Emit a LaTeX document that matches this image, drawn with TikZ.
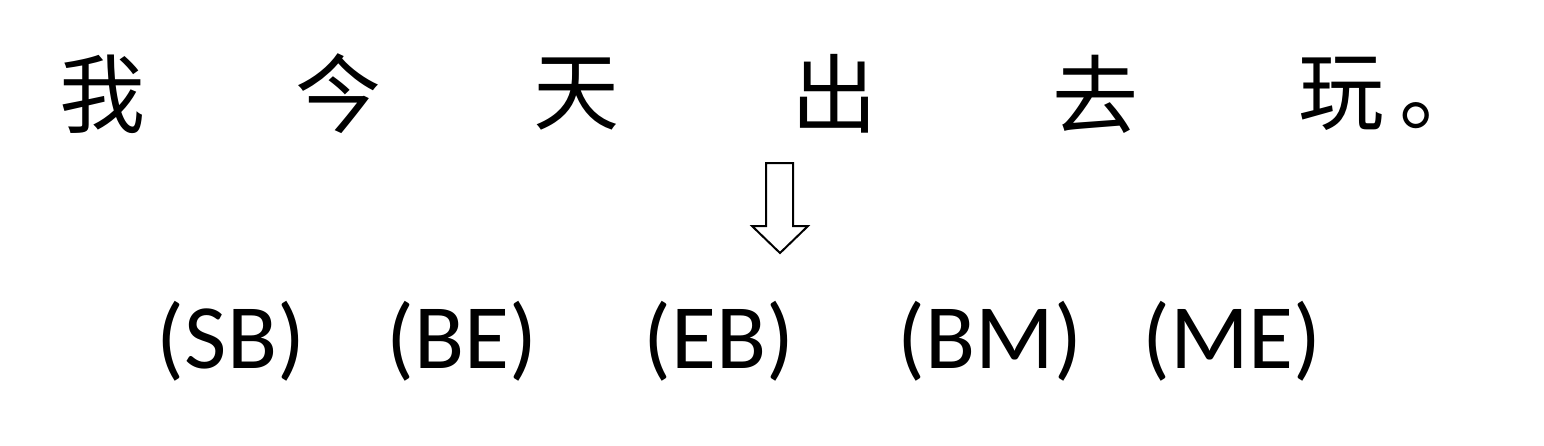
\documentclass[tikz,border=0pt]{standalone}
\usepackage{fontspec}
\setmainfont{Carlito}
\newfontfamily\cjk{Noto Sans CJK SC}
\begin{document}
\begin{tikzpicture}[x=0.5pt,y=-0.5pt]
      \useasboundingbox (0,0) rectangle (1544,445);
      \tikzset{
        zi/.style={inner sep=0pt,font=\cjk\fontsize{43}{43}\selectfont},
        tag/.style={inner sep=0pt,font=\fontsize{46}{46}\selectfont}}
      \draw
        (102,94) node[zi] (c0){我}
        (338,94) node[zi] (c1){今}
        (576,94) node[zi] (c2){天}
        (834,94) node[zi] (c3){出}
        (1095,94) node[zi] (c4){去}
        (1392,94) node[zi] (c5){玩\,。};
      \draw[line width=1pt]
        (766,163) -- (793,163) -- (793,226) -- (808,226) -- (780,253)
        -- (752,226) -- (766,226) -- cycle;
      \draw
        (231,341) node[tag] (t0){(SB)}
        (462,341) node[tag] (t1){(BE)}
        (719,341) node[tag] (t2){(EB)}
        (990,341) node[tag] (t3){(BM)}
        (1232,341) node[tag] (t4){(ME)};
    \end{tikzpicture}
\end{document}
